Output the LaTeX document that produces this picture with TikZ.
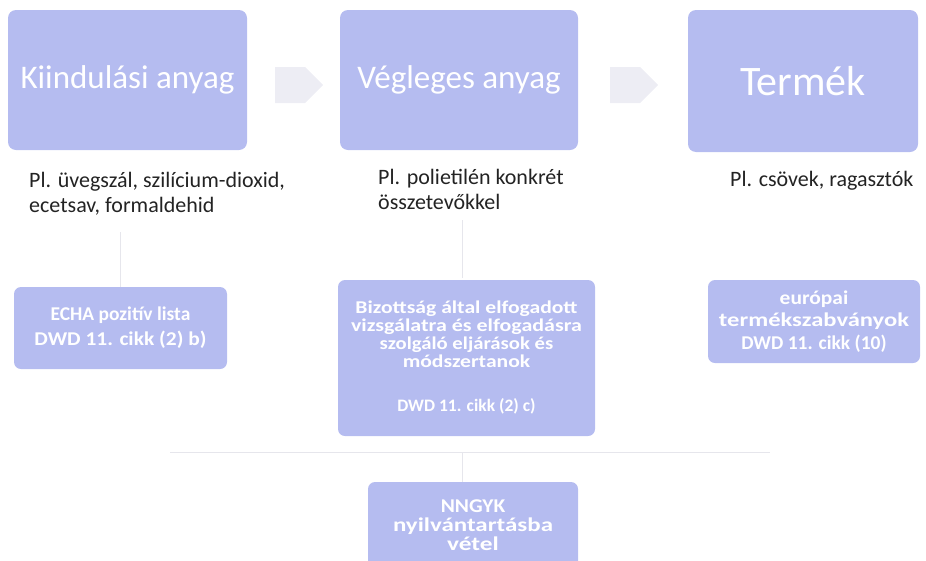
\documentclass[tikz,border=0pt]{standalone}
\usepackage{fontspec}
\setmainfont{Carlito}
\usetikzlibrary{shapes.arrows}
\definecolor{boxfill}{RGB}{181,188,240}
\definecolor{arrowfill}{RGB}{237,237,244}
\definecolor{labeltext}{RGB}{35,35,35}
\definecolor{faint}{RGB}{230,230,236}
\newcommand{\hx}[2]{\scalebox{#1}[1]{#2}}
\tikzset{
  bigbox/.style={fill=boxfill, rounded corners=8pt, text=white, align=center, inner sep=0pt},
  smallbox/.style={fill=boxfill, rounded corners=7pt, text=white, align=center, inner sep=0pt},
  lbl/.style={text=labeltext, align=left, anchor=base west, inner sep=0pt, font=\fontsize{22}{25}\selectfont},
  flow/.style={single arrow, fill=arrowfill, minimum width=36pt, single arrow head extend=0pt, minimum height=48pt, inner sep=0pt, single arrow tip angle=90},
  conn/.style={draw=faint, line width=0.8pt}
}
\begin{document}
\begin{tikzpicture}[x=1pt,y=-1pt]
\useasboundingbox (0,0) rectangle (926,560);
\clip (0,0) rectangle (926,560);
% top boxes
\node[bigbox, minimum width=239pt, minimum height=140pt, font=\fontsize{33}{36}\selectfont] (b1) at (127.5,80) {Kiindulási anyag};
\node[bigbox, minimum width=238pt, minimum height=140pt, font=\fontsize{33}{36}\selectfont] (b2) at (459,80) {Végleges anyag};
\node[bigbox, minimum width=230pt, minimum height=142pt, font=\fontsize{42}{46}\selectfont] (b3) at (803,81) {Termék};
% flow arrows
\node[flow] (a1) at (290,85) {};
\node[flow] (a2) at (625,85) {};
% labels (base = last line)
\node[lbl] (t1) at (29,212) {Pl. üvegszál, szilícium-dioxid,\\ecetsav, formaldehid};
\node[lbl] (t2) at (378,209) {Pl. polietilén konkrét\\összetevőkkel};
\node[lbl] (t3) at (730,186) {Pl. csövek, ragasztók};
% lower boxes
\node[smallbox, minimum width=213pt, minimum height=82pt, font=\bfseries\fontsize{19.5}{25}\selectfont] (l1) at (120.5,328) {ECHA pozitív lista\\\hx{1.1}{DWD 11. cikk (2) b)}};
\node[smallbox, minimum width=257pt, minimum height=156pt, font=\bfseries\fontsize{18}{18}\selectfont] (l2) at (466.5,358) {\hx{1.2}{Bizottság által elfogadott}\\\hx{1.22}{vizsgálatra és elfogadásra}\\\hx{1.15}{szolgáló eljárások és}\\\hx{1.2}{módszertanok}\\[26pt]{\fontsize{17.5}{18}\selectfont DWD 11. cikk (2) c)}};
\node[smallbox, minimum width=212pt, minimum height=83pt, font=\bfseries\fontsize{19.5}{22.5}\selectfont] (l3) at (814,321.5) {\hx{1.1}{európai}\\\hx{1.26}{termékszabványok}\\DWD 11. cikk (10)};
\node[smallbox, minimum width=210pt, minimum height=86pt, font=\bfseries\fontsize{19.5}{19}\selectfont, text depth=0pt] (l4) at (473,525) {\hx{1.1}{NNGYK}\\\hx{1.28}{nyilvántartásba}\\\hx{1.3}{vétel}};
% faint connectors
\coordinate (h1) at (170,452);
\coordinate (h2) at (770,452);
\draw[conn] (l1.north) -- ++(0,-55);
\draw[conn] (l2.north -| 462,0) ++(0,-2) -- ++(0,-58);
\draw[conn] (h1) -- (h2);
\draw[conn] (l4.north -| 462,0) -- ++(0,-30);
\end{tikzpicture}
\end{document}
